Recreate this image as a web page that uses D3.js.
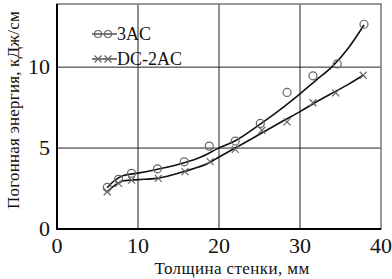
<!DOCTYPE html>
<html><head><meta charset="utf-8">
<script src="https://cdn.jsdelivr.net/npm/d3@7"></script>
<style>body{margin:0;background:#fff}svg{display:block}text{font-family:"Liberation Serif","Times New Roman",serif;fill:#111}</style>
</head><body>
<svg id="c" width="392" height="279"></svg>
<script>
const xTicks=[0,10,20,30,40];
const yTicks=[0,5,10];
const seriesNames=["3AC","DC-2AC"];
// measured points
const ac3X=[6.2,7.6,9.2,12.4,15.7,18.8,22.0,25.1,28.4,31.6,34.6,37.9];
const ac3Y=[2.57,3.07,3.44,3.72,4.15,5.12,5.43,6.52,8.44,9.46,10.2,12.65];
const dcX=[6.2,7.6,9.2,12.5,15.8,18.9,22.0,25.3,28.4,31.6,34.4,37.8];
const dcY=[2.3,2.82,3.02,3.13,3.54,4.16,4.92,6.1,6.62,7.8,8.41,9.5];
// fitted curves
const ac3FitX=[6.2,7,8.2,10,12.3,15.7,18,19.9,22,25,28,30,32,34,36,37.9];
const ac3FitY=[2.55,2.95,3.3,3.45,3.68,4.09,4.5,4.98,5.45,6.45,7.55,8.35,9.2,10.05,11.2,12.6];
const dcFitX=[6.2,7,8.2,10,12.3,15.6,18.9,20,22,25,28,30,32,34,36,37.8];
const dcFitY=[2.3,2.65,2.98,3.05,3.13,3.54,4.12,4.45,5.0,5.85,6.7,7.25,7.85,8.4,8.95,9.5];

const svg=d3.select("#c");
const L=57,R=381,T=4,B=229;
const x=d3.scaleLinear().domain([0,40]).range([L,R]);
const y=d3.scaleLinear().domain([0,13.9]).range([B,T]);

// grid
svg.append("g").selectAll("line").data([10,20,30]).join("line")
 .attr("x1",d=>x(d)).attr("x2",d=>x(d)).attr("y1",T).attr("y2",B)
 .attr("stroke","#222").attr("stroke-width",1);
svg.append("g").selectAll("line").data([5,10]).join("line")
 .attr("y1",d=>y(d)).attr("y2",d=>y(d)).attr("x1",L).attr("x2",R)
 .attr("stroke","#222").attr("stroke-width",1);
// frame
svg.append("rect").attr("x",L).attr("y",T).attr("width",R-L).attr("height",B-T)
 .attr("fill","none").attr("stroke","#777").attr("stroke-width",1.5);
svg.append("line").attr("x1",L).attr("x2",L).attr("y1",T).attr("y2",B+1).attr("stroke","#000").attr("stroke-width",2);
svg.append("line").attr("x1",L-1).attr("x2",R).attr("y1",B).attr("y2",B).attr("stroke","#000").attr("stroke-width",2);

// tick labels
svg.append("g").selectAll("text").data(xTicks).join("text")
 .attr("x",d=>x(d)).attr("y",253).attr("text-anchor","middle")
 .attr("font-size",22).text(d=>d);
svg.append("g").selectAll("text").data(yTicks).join("text")
 .attr("x",50).attr("y",d=>y(d)+7).attr("text-anchor","end")
 .attr("font-size",22).text(d=>d);

// axis titles
svg.append("text").attr("x",232).attr("y",274).attr("text-anchor","middle")
 .attr("font-size",17).attr("letter-spacing",0.4).text("Толщина стенки, мм");
svg.append("text").attr("transform","translate(19,110) rotate(-90)").attr("text-anchor","middle")
 .attr("font-size",17).attr("letter-spacing",0.2).text("Погонная энергия, кДж/см");

// curves
const line=d3.line().curve(d3.curveMonotoneX).x(d=>x(d[0])).y(d=>y(d[1]));
svg.append("path").datum(d3.zip(ac3FitX,ac3FitY)).attr("d",line)
 .attr("fill","none").attr("stroke","#111").attr("stroke-width",1.6);
svg.append("path").datum(d3.zip(dcFitX,dcFitY)).attr("d",line)
 .attr("fill","none").attr("stroke","#111").attr("stroke-width",1.6);

// markers
const mc="#666";
svg.append("g").selectAll("circle").data(d3.zip(ac3X,ac3Y)).join("circle")
 .attr("cx",d=>x(d[0])).attr("cy",d=>y(d[1])).attr("r",4)
 .attr("fill","none").attr("stroke",mc).attr("stroke-width",1.2);
const cross=(g,cx,cy,s)=>{g.append("path").attr("d",`M${cx-s},${cy-s}L${cx+s},${cy+s}M${cx-s},${cy+s}L${cx+s},${cy-s}`)
 .attr("stroke",mc).attr("stroke-width",1.2).attr("fill","none");};
const cg=svg.append("g");
d3.zip(dcX,dcY).forEach(d=>cross(cg,x(d[0]),y(d[1]),3.5));

// legend
const lg=svg.append("g");
lg.append("line").attr("x1",92).attr("x2",117).attr("y1",34).attr("y2",34).attr("stroke","#222").attr("stroke-width",1.2);
[98,108].forEach(cx=>lg.append("circle").attr("cx",cx).attr("cy",34).attr("r",3.5).attr("fill","none").attr("stroke",mc).attr("stroke-width",1.2));
lg.append("text").attr("x",117).attr("y",40).attr("font-size",18).text(seriesNames[0]);
lg.append("line").attr("x1",92).attr("x2",117).attr("y1",59).attr("y2",59).attr("stroke","#222").attr("stroke-width",1.2);
[98,108].forEach(cx=>cross(lg,cx,59,3.5));
lg.append("text").attr("x",117).attr("y",65).attr("font-size",18).text(seriesNames[1]);
</script>
</body></html>
